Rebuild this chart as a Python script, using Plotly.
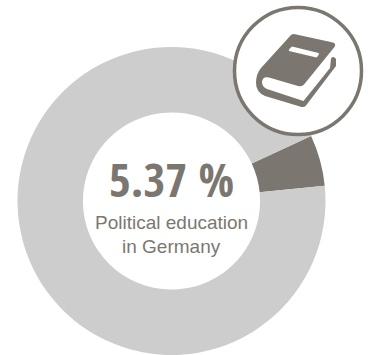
import plotly.graph_objects as go

# Share of political education in Germany
categories = ["Political education", "Other"]
values = [5.37, 94.63]
slice_colors = ["#7b7770", "#cdcdcd"]
headline = "5.37 %"
caption_lines = ["Political education", "in Germany"]

W, H = 369, 355
INK = "#7b7770"


def px(x):
    return x / W


def py(y):
    return 1 - y / H


def path(points, close=True):
    """Build an SVG path in paper coordinates from pixel points."""
    cmds = []
    for cmd in points:
        letter, *coords = cmd
        pairs = [f"{px(coords[i]):.5f},{py(coords[i + 1]):.5f}" for i in range(0, len(coords), 2)]
        cmds.append(letter + " " + " ".join(pairs))
    return " ".join(cmds) + (" Z" if close else "")


# Book cover with rounded spine and page block
book_body = path([
    ("M", 294, 34), ("L", 333, 42.5), ("Q", 336.5, 44, 334.5, 47),
    ("L", 304, 84.5), ("Q", 302, 87, 298, 86),
    ("L", 269, 77.5), ("Q", 262.5, 76, 262, 82), ("Q", 262, 87, 267, 89),
    ("L", 303.5, 101), ("L", 330, 68), ("L", 331, 58.5), ("Q", 333.5, 55.5, 336, 59),
    ("L", 336, 66),
    ("L", 306, 105.5), ("Q", 304, 108, 300, 106.5),
    ("L", 265, 96), ("Q", 256, 92, 256, 83), ("Q", 256, 74, 261, 68),
    ("L", 291, 35), ("Q", 292, 34, 294, 34),
])
book_label = path([
    ("M", 292, 46.5), ("L", 318.5, 53), ("Q", 320, 54, 316.5, 57.5), ("L", 289, 51), ("Q", 288, 50, 292, 46.5),
])

shapes = [
    dict(type="circle", xref="paper", yref="paper",
         x0=px(234.5), x1=px(361.5), y0=py(134.5), y1=py(7.5),
         fillcolor="white", line=dict(color=INK, width=3.5)),
    dict(type="path", xref="paper", yref="paper", path=book_body,
         fillcolor=INK, line=dict(width=0)),
    dict(type="path", xref="paper", yref="paper", path=book_label,
         fillcolor="white", line=dict(width=0)),
]

annotations = [
    dict(text=headline, x=px(171.5), y=py(178.5), xref="paper", yref="paper",
         showarrow=False, xanchor="center", yanchor="middle",
         font=dict(family="Open Sans Condensed", size=47, color=INK, weight="bold")),
    dict(text=caption_lines[0], x=px(171), y=py(222), xref="paper", yref="paper",
         showarrow=False, xanchor="center", yanchor="middle",
         font=dict(family="Liberation Sans", size=19, color=INK)),
    dict(text=caption_lines[1], x=px(171), y=py(246), xref="paper", yref="paper",
         showarrow=False, xanchor="center", yanchor="middle",
         font=dict(family="Liberation Sans", size=19, color=INK)),
]

fig = go.Figure(go.Pie(
    labels=categories,
    values=values,
    hole=0.575,
    sort=False,
    direction="clockwise",
    rotation=65,
    marker=dict(colors=slice_colors, line=dict(width=0)),
    textinfo="none",
    hoverinfo="label+percent",
    domain=dict(x=[px(17.5), px(325.5)], y=[py(355), py(47)]),
))

fig.update_layout(
    width=W, height=H,
    margin=dict(l=0, r=0, t=0, b=0),
    showlegend=False,
    paper_bgcolor="white",
    shapes=shapes,
    annotations=annotations,
)

fig.write_html("out.html", config={"displayModeBar": False})
